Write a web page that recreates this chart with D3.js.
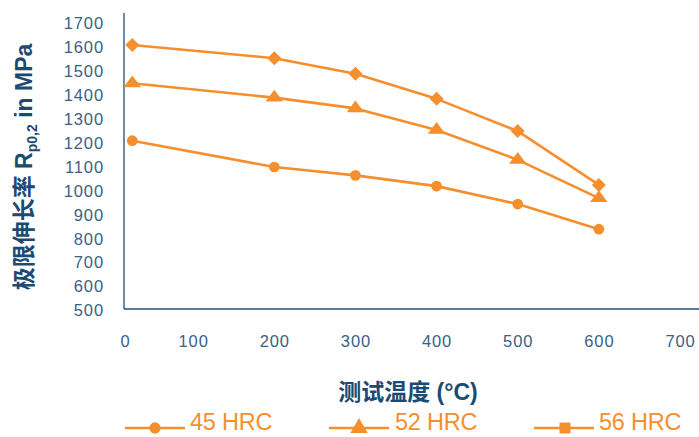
<!DOCTYPE html>
<html>
<head>
<meta charset="utf-8">
<script src="https://cdn.jsdelivr.net/npm/d3@7"></script>
<style>
  html, body { margin: 0; padding: 0; background: #fff; }
  svg { display: block; }
</style>
</head>
<body>
<svg id="chart" width="699" height="437"></svg>
<script>
// ---- data ----
const temps = [25, 200, 300, 400, 500, 600];
const hrc45 = [1210, 1100, 1065, 1020, 945, 840];
const hrc52 = [1450, 1390, 1345, 1255, 1130, 970];
const hrc56 = [1610, 1555, 1490, 1385, 1250, 1025];
const seriesNames = ["45 HRC", "52 HRC", "56 HRC"];
const xTicks = [0, 100, 200, 300, 400, 500, 600, 700];
const yTicks = [500, 600, 700, 800, 900, 1000, 1100, 1200, 1300, 1400, 1500, 1600, 1700];
const xTitle = "测试温度 (°C)";

// ---- layout / style ----
const W = 699, H = 437;
const plot = { left: 124, top: 13, bottom: 309, right: 699 };
const orange = "#f58f2e";
const axisBlue = "#1f4e79";
const tickBlue = "#3a6186";
const titleBlue = "#1b4a72";
const fontLatin = "'Liberation Sans', Arial, Helvetica, sans-serif";
const fontCJK = "'Liberation Sans', 'Noto Sans CJK SC', Arial, sans-serif";

const svg = d3.select("#chart");

const x = d3.scaleLinear().domain([0, 700]).range([112, 680]);
const y = d3.scaleLinear().domain([500, 1700]).range([310.5, 23.5]);

// axis lines
svg.append("line").attr("x1", plot.left).attr("x2", plot.left)
  .attr("y1", plot.top).attr("y2", plot.bottom)
  .attr("stroke", axisBlue).attr("stroke-width", 1.3);
svg.append("line").attr("x1", plot.left).attr("x2", plot.right)
  .attr("y1", plot.bottom).attr("y2", plot.bottom)
  .attr("stroke", axisBlue).attr("stroke-width", 1.3);

// y axis tick labels
const yAxis = d3.axisLeft(y).tickValues(yTicks).tickFormat(d3.format("d")).tickSize(0).tickPadding(0);
const gy = svg.append("g").attr("transform", "translate(104,0)").call(yAxis);
gy.select(".domain").remove();
gy.selectAll("text")
  .attr("fill", tickBlue)
  .style("font-family", fontLatin)
  .style("font-size", "16.5px")
  .style("letter-spacing", "0.9px");

// x axis tick labels
const xAxis = d3.axisBottom(x).tickValues(xTicks).tickFormat(d3.format("d")).tickSize(0).tickPadding(0);
const gx = svg.append("g").attr("transform", "translate(0,335)").call(xAxis);
gx.select(".domain").remove();
gx.selectAll("text")
  .attr("fill", tickBlue)
  .attr("dx", d => d === 0 ? 13 : 0)
  .style("font-family", fontLatin)
  .style("font-size", "16.5px")
  .style("letter-spacing", "0.9px");

// x title
svg.append("text")
  .attr("x", 408).attr("y", 400)
  .attr("text-anchor", "middle")
  .attr("fill", titleBlue)
  .style("font-family", fontCJK)
  .style("font-weight", "bold")
  .style("font-size", "23px")
  .text(xTitle);

// y title
const yt = svg.append("text")
  .attr("transform", "translate(32,167) rotate(-90)")
  .attr("text-anchor", "middle")
  .attr("fill", titleBlue)
  .style("font-family", fontCJK)
  .style("font-weight", "bold")
  .style("font-size", "23px");
yt.append("tspan").text("极限伸长率 R");
yt.append("tspan").attr("dy", 5).style("font-size", "14px").text("p0,2");
yt.append("tspan").attr("dy", -5).text(" in MPa");

// symbols
const flatTriangle = {
  draw(ctx, size) {
    const w = Math.sqrt(size) * 1.2, h = w * 0.68;
    ctx.moveTo(0, -h * 2 / 3);
    ctx.lineTo(w / 2, h / 3);
    ctx.lineTo(-w / 2, h / 3);
    ctx.closePath();
  }
};
const series = [
  { name: seriesNames[0], values: hrc45, sym: d3.symbolCircle, size: 90, rot: 0, legSym: d3.symbolCircle, legSize: 100 },
  { name: seriesNames[1], values: hrc52, sym: flatTriangle, size: 210, rot: 0, legSym: d3.symbolTriangle, legSize: 130 },
  { name: seriesNames[2], values: hrc56, sym: d3.symbolSquare, size: 98, rot: 45, legSym: d3.symbolSquare, legSize: 120 }
];

const line = d3.line().x((d, i) => x(temps[i])).y(d => y(d));

series.forEach(s => {
  svg.append("path")
    .attr("d", line(s.values))
    .attr("fill", "none")
    .attr("stroke", orange)
    .attr("stroke-width", 2.6)
    .attr("stroke-linejoin", "round");
  svg.append("g").selectAll("path").data(s.values).join("path")
    .attr("transform", (d, i) => `translate(${x(temps[i])},${y(d)}) rotate(${s.rot})`)
    .attr("d", d3.symbol().type(s.sym).size(s.size)())
    .attr("fill", orange);
});

// legend
const legendItems = [
  { lx: 125, mx: 155, tx: 190 },
  { lx: 329, mx: 359, tx: 395 },
  { lx: 534, mx: 565, tx: 599 }
];
const legY = 428;
series.forEach((s, i) => {
  const p = legendItems[i];
  const g = svg.append("g");
  g.append("line").attr("x1", p.lx).attr("x2", p.lx + 60)
    .attr("y1", legY).attr("y2", legY)
    .attr("stroke", orange).attr("stroke-width", 2.6);
  g.append("path")
    .attr("transform", `translate(${p.mx},${legY})`)
    .attr("d", d3.symbol().type(s.legSym).size(s.legSize)())
    .attr("fill", orange);
  g.append("text")
    .attr("x", p.tx).attr("y", 430)
    .attr("fill", orange)
    .style("font-family", fontLatin)
    .style("font-size", "23.5px")
    .style("letter-spacing", "-0.2px")
    .text(s.name);
});
</script>
</body>
</html>
